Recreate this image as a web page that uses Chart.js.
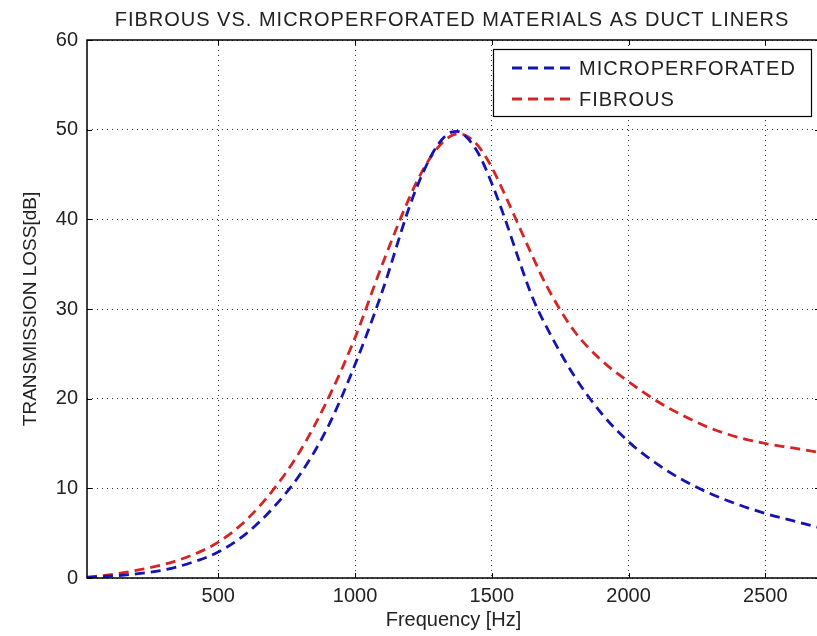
<!DOCTYPE html>
<html>
<head>
<meta charset="utf-8">
<script src="https://cdn.jsdelivr.net/npm/chart.js@4.4.1/dist/chart.umd.min.js"></script>
<style>
  html, body { margin: 0; padding: 0; background: #ffffff; overflow: hidden; }
  #wrap { width: 817px; height: 636px; overflow: hidden; position: relative; }
  canvas { display: block; }
</style>
</head>
<body>
<div id="wrap"><canvas id="c" width="822" height="636"></canvas></div>
<script>
// ---- data ----
const chartTitle = "FIBROUS VS. MICROPERFORATED MATERIALS AS DUCT LINERS";
const xTitle = "Frequency [Hz]";
const yTitle = "TRANSMISSION LOSS[dB]";
const seriesNames = ["MICROPERFORATED", "FIBROUS"];
const xTicks = [500, 1000, 1500, 2000, 2500];
const yTicks = [0, 10, 20, 30, 40, 50, 60];
const freq = [20, 100, 200, 300, 400, 500, 600, 700, 800, 900, 1000, 1100, 1200, 1250, 1300, 1350, 1375, 1400, 1450, 1500, 1550, 1600, 1650, 1700, 1800, 1900, 2000, 2100, 2200, 2300, 2400, 2500, 2600, 2700];
const microperforated = [0.05, 0.2, 0.45, 0.9, 1.7, 2.9, 4.9, 7.8, 11.6, 16.8, 23.8, 32.0, 41.5, 45.3, 48.2, 49.7, 49.8, 49.4, 47.4, 44.0, 39.9, 35.4, 31.2, 28.0, 22.6, 18.4, 15.2, 12.8, 10.9, 9.4, 8.2, 7.2, 6.4, 5.6];
const fibrous = [0.1, 0.35, 0.85, 1.5, 2.5, 4.0, 6.4, 9.8, 14.2, 19.9, 26.8, 35.0, 42.5, 45.6, 47.9, 49.3, 49.5, 49.4, 48.2, 45.8, 42.6, 39.2, 35.8, 32.6, 27.6, 24.3, 21.9, 19.8, 18.1, 16.7, 15.7, 15.0, 14.5, 14.0];

const FONT = "'Liberation Sans', Arial, Helvetica, sans-serif";
const colors = ["#1414b4", "#d42424"];
const dash = [10, 6];

const toPts = (ys) => freq.map((f, i) => ({ x: f, y: ys[i] }));

const matlabPlugin = {
  id: 'matlabDecor',
  afterDraw(chart) {
    const { ctx, chartArea: a, scales } = chart;
    ctx.save();
    // axes box
    ctx.strokeStyle = '#000';
    ctx.lineWidth = 1.5;
    ctx.setLineDash([]);
    ctx.strokeRect(a.left, a.top, a.right - a.left, a.bottom - a.top);
    // inward ticks
    ctx.lineWidth = 1;
    const tl = 5;
    xTicks.forEach(v => {
      const x = Math.round(scales.x.getPixelForValue(v)) + 0.5;
      ctx.beginPath();
      ctx.moveTo(x, a.bottom); ctx.lineTo(x, a.bottom - tl);
      ctx.moveTo(x, a.top); ctx.lineTo(x, a.top + tl);
      ctx.stroke();
    });
    yTicks.forEach(v => {
      const y = Math.round(scales.y.getPixelForValue(v)) + 0.5;
      ctx.beginPath();
      ctx.moveTo(a.left, y); ctx.lineTo(a.left + tl, y);
      ctx.moveTo(a.right, y); ctx.lineTo(a.right - tl, y);
      ctx.stroke();
    });
    // title
    ctx.fillStyle = '#222';
    ctx.font = "20px " + FONT;
    ctx.textAlign = 'center';
    ctx.textBaseline = 'middle';
    if ('letterSpacing' in ctx) ctx.letterSpacing = '1px';
    ctx.fillText(chartTitle, (a.left + 817) / 2, 20);
    // legend
    const lx = 493, ly = 49, lw = 318, lh = 67;
    ctx.fillStyle = '#fff';
    ctx.fillRect(lx, ly, lw, lh);
    ctx.strokeStyle = '#000';
    ctx.lineWidth = 1.2;
    ctx.strokeRect(lx + 0.5, ly + 0.5, lw, lh);
    const rows = [68, 99];
    chart.data.datasets.forEach((ds, i) => {
      ctx.strokeStyle = ds.borderColor;
      ctx.lineWidth = ds.borderWidth;
      ctx.setLineDash(ds.borderDash);
      ctx.beginPath();
      ctx.moveTo(512, rows[i]); ctx.lineTo(576, rows[i]);
      ctx.stroke();
      ctx.setLineDash([]);
      ctx.fillStyle = '#222';
      ctx.textAlign = 'left';
      ctx.fillText(ds.label, 579, rows[i] + 1);
    });
    ctx.restore();
  }
};

new Chart(document.getElementById('c'), {
  type: 'line',
  data: {
    datasets: [
      { label: seriesNames[0], data: toPts(microperforated), borderColor: colors[0], backgroundColor: colors[0], borderWidth: 2.8, borderDash: dash, pointRadius: 0, cubicInterpolationMode: 'monotone', fill: false },
      { label: seriesNames[1], data: toPts(fibrous), borderColor: colors[1], backgroundColor: colors[1], borderWidth: 2.8, borderDash: dash, pointRadius: 0, cubicInterpolationMode: 'monotone', fill: false }
    ]
  },
  options: {
    responsive: false,
    animation: false,
    layout: { padding: { top: 40, right: 2, left: 0, bottom: 0 } },
    plugins: { legend: { display: false }, title: { display: false }, tooltip: { enabled: false } },
    scales: {
      x: {
        type: 'linear', min: 20, max: 2700,
        afterBuildTicks: (s) => { s.ticks = xTicks.map(v => ({ value: v })); },
        afterFit: (s) => { s.height = 58; },
        ticks: { color: '#222', font: { family: FONT, size: 20 }, padding: 6, maxRotation: 0, autoSkip: false, callback: (v) => String(v) },
        grid: { color: '#333', lineWidth: 1, drawTicks: false },
        border: { display: false, dash: [1, 4] },
        title: { display: true, text: xTitle, color: '#222', font: { family: FONT, size: 20 }, padding: { top: 0, bottom: 4 } }
      },
      y: {
        min: 0, max: 60,
        afterBuildTicks: (s) => { s.ticks = yTicks.map(v => ({ value: v })); },
        afterFit: (s) => { s.width = 87; },
        ticks: { color: '#222', font: { family: FONT, size: 20 }, padding: 9, callback: (v) => String(v) },
        grid: { color: '#333', lineWidth: 1, drawTicks: false },
        border: { display: false, dash: [1, 4] },
        title: { display: true, text: yTitle, color: '#222', font: { family: FONT, size: 19 }, padding: { top: 19, bottom: 0 } }
      }
    }
  },
  plugins: [matlabPlugin]
});
</script>
</body>
</html>
